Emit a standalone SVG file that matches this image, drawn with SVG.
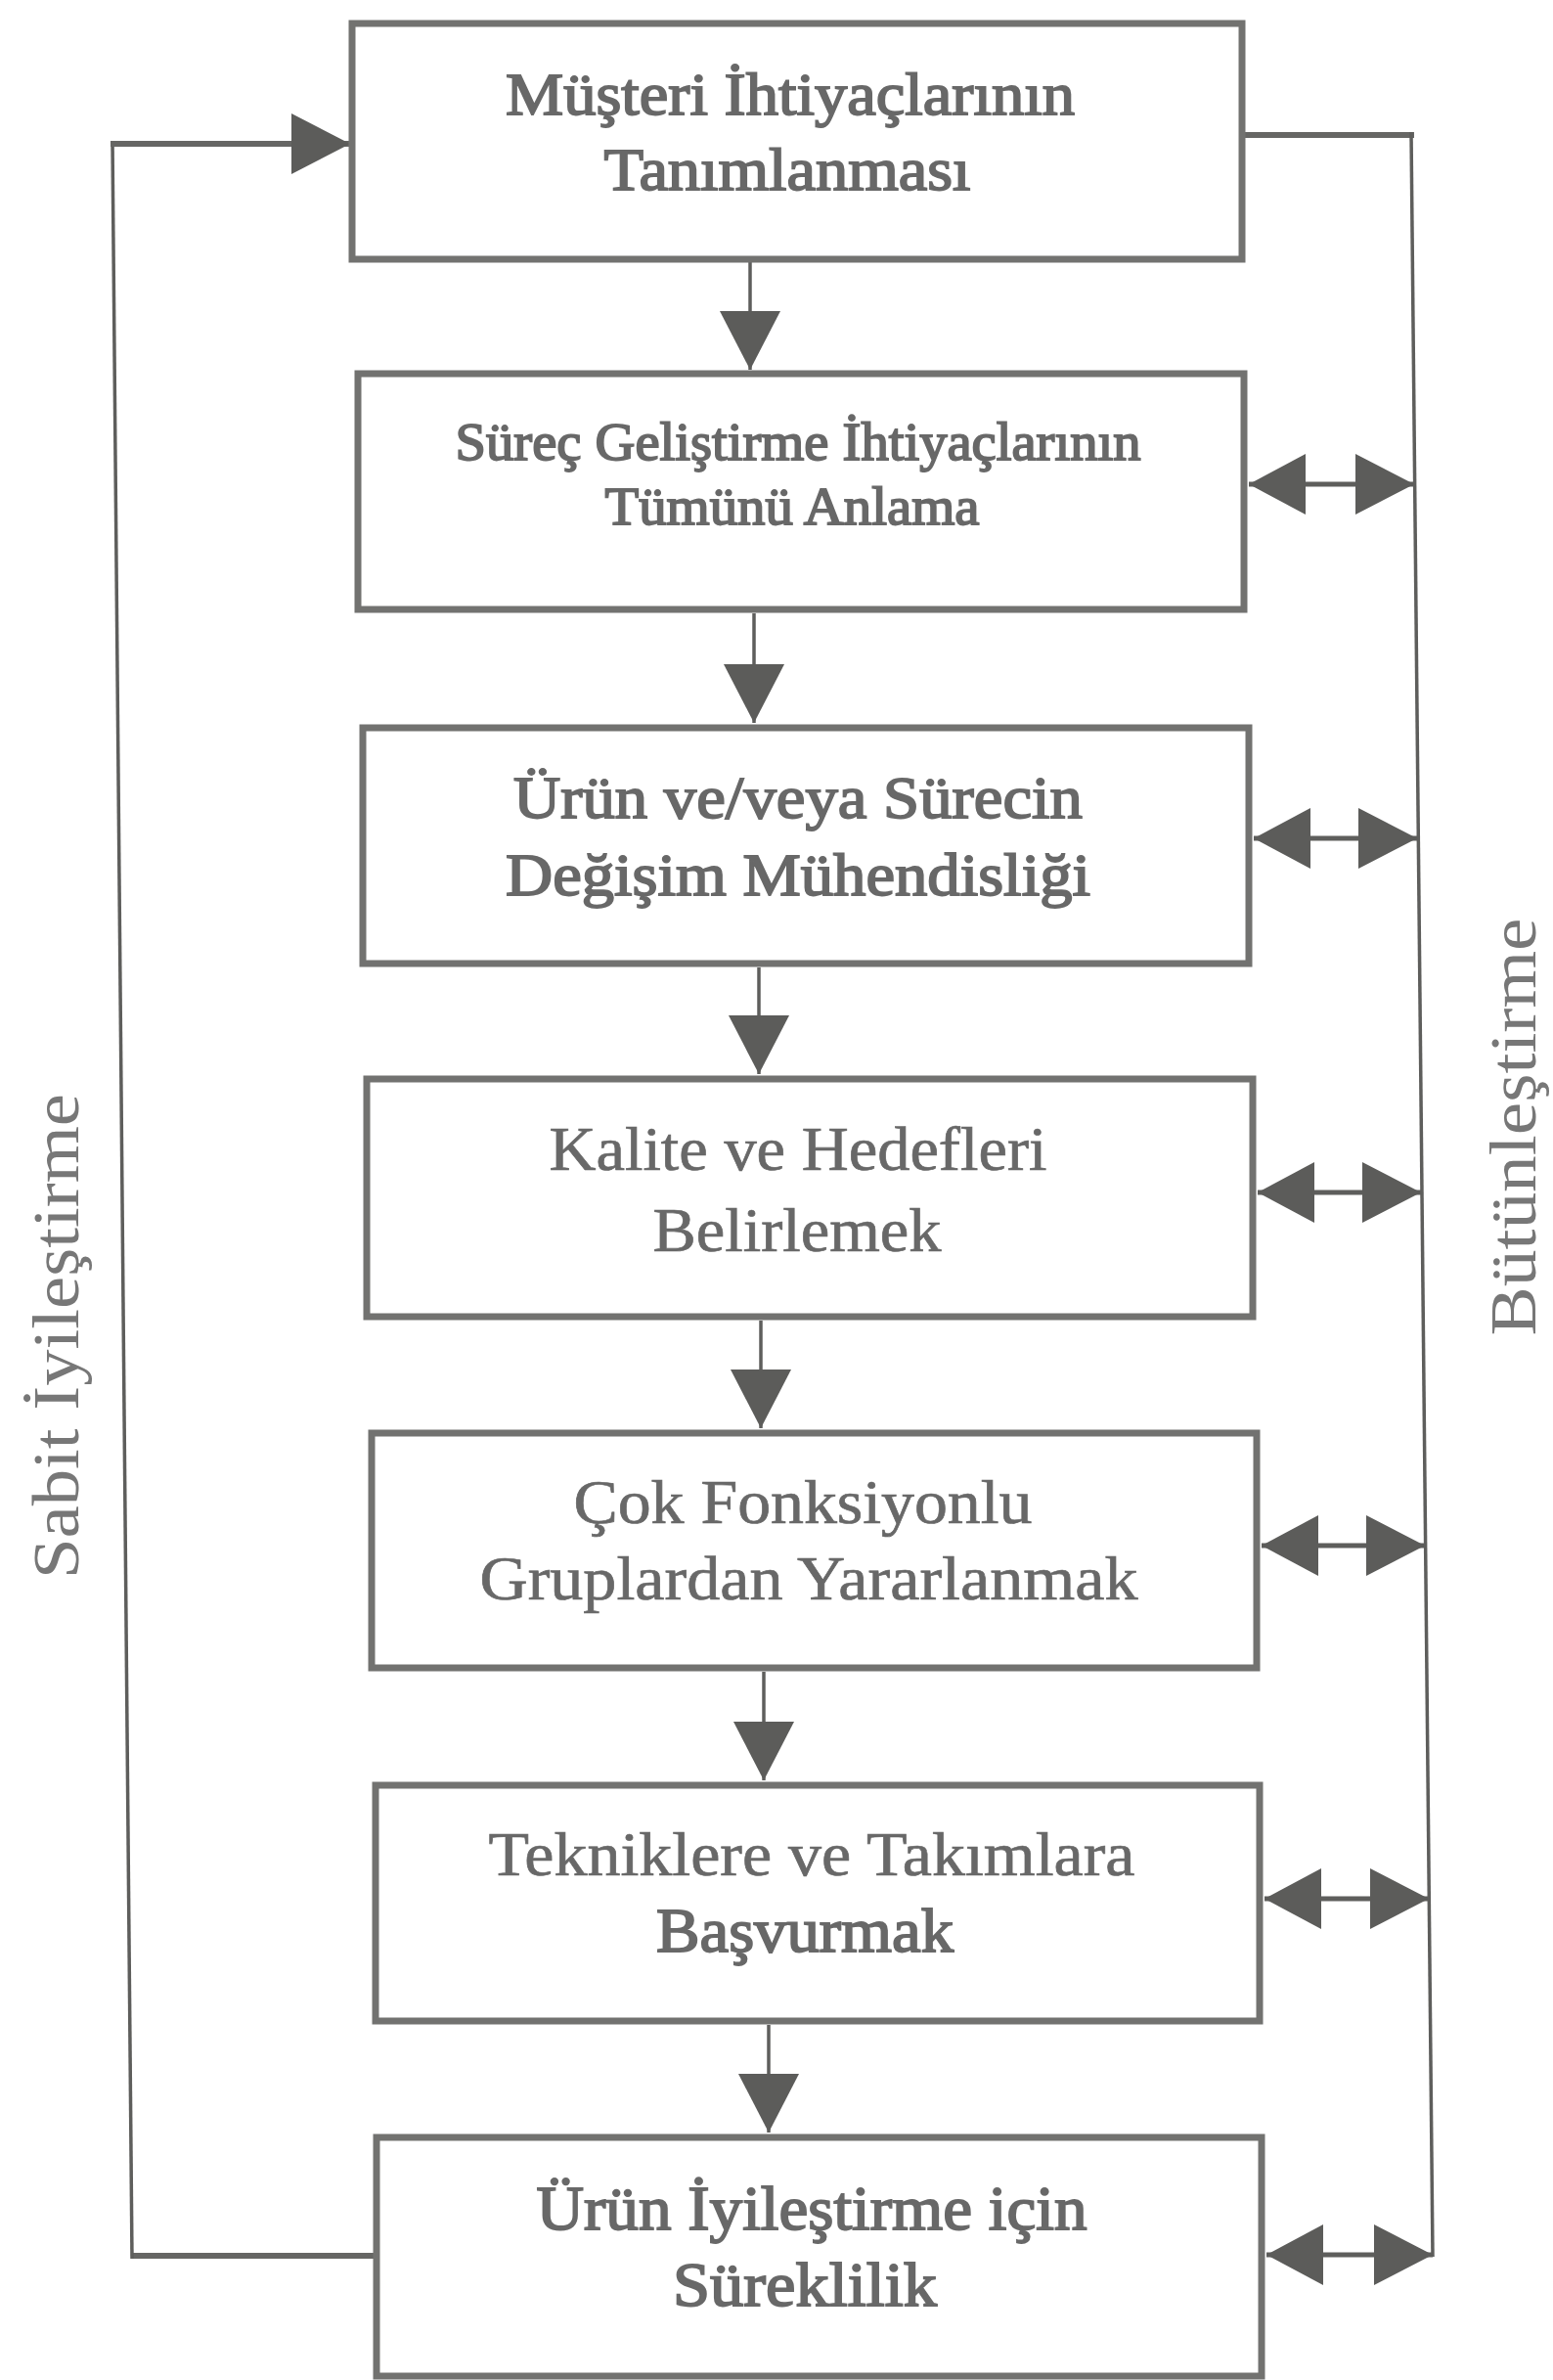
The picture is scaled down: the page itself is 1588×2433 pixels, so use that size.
<svg xmlns="http://www.w3.org/2000/svg" width="1588" height="2433" viewBox="0 0 1588 2433">
<defs>
<marker id="ah" markerUnits="userSpaceOnUse" markerWidth="62" markerHeight="64" refX="60" refY="31" orient="auto-start-reverse" viewBox="0 0 62 64">
<path d="M0,0 L60,31 L0,62 z" fill="#5c5c5a"/>
</marker>
<marker id="ahs" markerUnits="userSpaceOnUse" markerWidth="62" markerHeight="64" refX="58" refY="31" orient="auto-start-reverse" viewBox="0 0 62 64">
<path d="M0,0 L58,31 L0,62 z" fill="#5c5c5a"/>
</marker>
</defs>
<style>
.box{fill:#ffffff;stroke:#727270;stroke-width:7}
.t{font-family:"Liberation Serif","DejaVu Serif",serif;fill:#686868;stroke:#686868;stroke-width:0.7;text-anchor:middle}
.b{stroke-width:1.8}
.side{font-family:"Liberation Serif","DejaVu Serif",serif;fill:#777777;font-size:68px;text-anchor:middle}
.thin{fill:none;stroke:#5e5e5c;stroke-width:3.5}
.thick{fill:none;stroke:#666664;stroke-width:6}
.down{fill:none;stroke:#5e5e5c;stroke-width:3.5;marker-end:url(#ah)}
.dbl{fill:none;stroke:#5e5e5c;stroke-width:5;marker-start:url(#ahs);marker-end:url(#ah)}
</style>
<rect width="1588" height="2433" fill="#ffffff"/>

<g id="connectors">
<line class="down" x1="767" y1="268" x2="767" y2="378"/>
<line class="down" x1="771" y1="627" x2="771" y2="739"/>
<line class="down" x1="776" y1="989" x2="776" y2="1098"/>
<line class="down" x1="778" y1="1350" x2="778" y2="1460"/>
<line class="down" x1="781" y1="1709" x2="781" y2="1820"/>
<line class="down" x1="786" y1="2070" x2="786" y2="2180"/>
<polyline class="thick" points="385,2306 135,2306"/>
<line class="thin" x1="135" y1="2309" x2="115" y2="144"/>
<polyline class="thick" points="113,147 358,147" marker-end="url(#ah)"/>
<polyline class="thick" points="1270,138 1446,138"/>
<line class="thin" x1="1443" y1="135" x2="1465" y2="2307"/>
<line class="dbl" x1="1277" y1="495" x2="1446" y2="495"/>
<line class="dbl" x1="1282" y1="857" x2="1449" y2="857"/>
<line class="dbl" x1="1286" y1="1219" x2="1453" y2="1219"/>
<line class="dbl" x1="1290" y1="1580" x2="1457" y2="1580"/>
<line class="dbl" x1="1293" y1="1941" x2="1461" y2="1941"/>
<line class="dbl" x1="1295" y1="2305" x2="1465" y2="2305"/>
</g>

<g id="n1">
<rect class="box" x="360" y="24" width="910" height="241"/>
<text class="t b" font-size="62" x="808" y="117" textLength="582" lengthAdjust="spacingAndGlyphs">Müşteri İhtiyaçlarının</text>
<text class="t b" font-size="62" x="805" y="194" textLength="375" lengthAdjust="spacingAndGlyphs">Tanımlanması</text>
</g>
<g id="n2">
<rect class="box" x="366" y="382" width="906" height="241"/>
<text class="t b" font-size="54" x="816" y="470" textLength="701" lengthAdjust="spacingAndGlyphs">Süreç Geliştirme İhtiyaçlarının</text>
<text class="t b" font-size="54" x="810" y="536" textLength="383" lengthAdjust="spacingAndGlyphs">Tümünü Anlama</text>
</g>
<g id="n3">
<rect class="box" x="371" y="744" width="906" height="241"/>
<text class="t b" font-size="62" x="816" y="836" textLength="582" lengthAdjust="spacingAndGlyphs">Ürün ve/veya Sürecin</text>
<text class="t b" font-size="62" x="816" y="915" textLength="598" lengthAdjust="spacingAndGlyphs">Değişim Mühendisliği</text>
</g>
<g id="n4">
<rect class="box" x="375" y="1103" width="906" height="243"/>
<text class="t" font-size="64" x="816" y="1196" textLength="509" lengthAdjust="spacingAndGlyphs">Kalite ve Hedefleri</text>
<text class="t" font-size="64" x="815" y="1279" textLength="295" lengthAdjust="spacingAndGlyphs">Belirlemek</text>
</g>
<g id="n5">
<rect class="box" x="380" y="1465" width="905" height="240"/>
<text class="t" font-size="64" x="821" y="1557" textLength="469" lengthAdjust="spacingAndGlyphs">Çok Fonksiyonlu</text>
<text class="t" font-size="64" x="827" y="1635" textLength="673" lengthAdjust="spacingAndGlyphs">Gruplardan Yararlanmak</text>
</g>
<g id="n6">
<rect class="box" x="384" y="1825" width="904" height="241"/>
<text class="t" font-size="64" x="830" y="1917" textLength="661" lengthAdjust="spacingAndGlyphs">Tekniklere ve Takımlara</text>
<text class="t b" font-size="64" x="823" y="1995" textLength="304" lengthAdjust="spacingAndGlyphs">Başvurmak</text>
</g>
<g id="n7">
<rect class="box" x="385" y="2185" width="905" height="244"/>
<text class="t b" font-size="64" x="830" y="2279" textLength="563" lengthAdjust="spacingAndGlyphs">Ürün İyileştirme için</text>
<text class="t b" font-size="64" x="823" y="2357" textLength="270" lengthAdjust="spacingAndGlyphs">Süreklilik</text>
</g>

<g id="labels">
<text class="side" transform="translate(80,1366) rotate(-90)" x="0" y="0" textLength="496" lengthAdjust="spacingAndGlyphs">Sabit İyileştirme</text>
<text class="side" transform="translate(1570,1152) rotate(-90)" x="0" y="0" textLength="427" lengthAdjust="spacingAndGlyphs">Bütünleştirme</text>
</g>
</svg>
